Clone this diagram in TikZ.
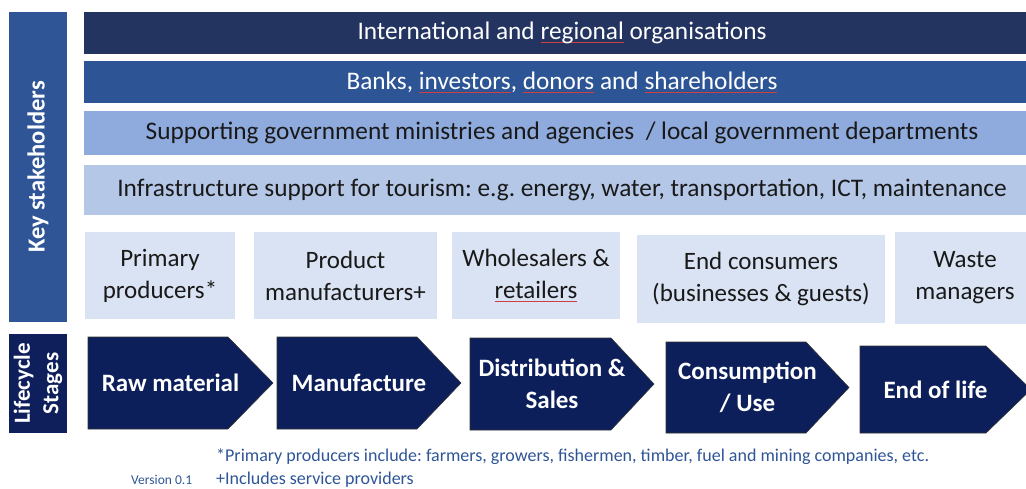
\documentclass[tikz,border=0pt]{standalone}
\usepackage{fontspec}
\setmainfont{Carlito}
\frenchspacing
\definecolor{bandA}{HTML}{233461}
\definecolor{bandB}{HTML}{2D5596}
\definecolor{bandC}{HTML}{8FAADC}
\definecolor{bandD}{HTML}{B4C7E7}
\definecolor{boxfill}{HTML}{DAE3F3}
\definecolor{keybar}{HTML}{2F5597}
\definecolor{lifebar}{HTML}{0E1F5B}
\definecolor{chevfill}{HTML}{0C1F5B}
\definecolor{notecol}{HTML}{2F5597}
\definecolor{spellcol}{HTML}{D04040}
\newcommand\spell[1]{{\setbox0\hbox{#1}\rlap{\color{spellcol}\raisebox{-3pt}{\rule{\wd0}{0.5pt}}}\box0}}
\newcommand\chev[7]{% name, x-left, x-shoulder, x-tip, y-top, y-bottom, text
  \draw[chevron] (#2,#5) -- (#3,#5) -- (#4,{(#5+#6)/2}) -- (#3,#6) -- (#2,#6) -- cycle;
  \node[chevtext] (#1) at ({(#2+#4)/2-10},{(#5+#6)/2}) {#7};}
\begin{document}
\begin{tikzpicture}[x=1pt,y=-1pt,
  band/.style={draw=none, fill=#1, inner sep=0pt, minimum width=956pt, font=\fontsize{25.3}{30}\selectfont},
  sbox/.style={fill=boxfill, inner sep=0pt, align=center, font=\fontsize{25}{32}\selectfont, text=black!90},
  sidebar/.style={fill=#1, inner sep=0pt, minimum width=58pt, text=white},
  chevron/.style={fill=chevfill, draw=black!80, line width=0.6pt},
  chevtext/.style={text=white, align=center, font=\bfseries\fontsize{25}{32}\selectfont},
  note/.style={anchor=west, inner sep=0pt, text=notecol, font=\fontsize{18}{20}\selectfont}]
\useasboundingbox (0,0) rectangle (1026,488);
% left side bars
\node[sidebar=keybar, minimum height=310pt] (key) at (38,167) {};
\node[rotate=90, text=white, font=\bfseries\fontsize{24.5}{28}\selectfont] (keytext) at (key.center) {Key stakeholders};
\node[sidebar=lifebar, minimum height=99pt] (life) at (38,383.5) {};
\node[rotate=90, text=white, align=center, font=\bfseries\fontsize{23}{28.5}\selectfont] (lifetext) at (life.center) {Lifecycle\\Stages};
% stakeholder bands
\node[band=bandA, minimum height=42pt, text=white] (b1) at (562,33) {International and \spell{regional} organisations};
\node[band=bandB, minimum height=42pt, text=white] (b2) at (562,82) {Banks, \spell{investors}, \spell{donors} and \spell{shareholders}};
\node[band=bandC, minimum height=44pt, text=black!90] (b3) at (562,133) {Supporting government ministries and agencies \ / local government departments};
\node[band=bandD, minimum height=50pt, text=black!90] (b4) at (562,190) {Infrastructure support for tourism: e.g. energy, water, transportation, ICT, maintenance};
% stakeholder boxes
\node[sbox, minimum width=150pt, minimum height=87pt] (s1) at (160,275.5) {Primary\\producers*};
\node[sbox, minimum width=183pt, minimum height=87pt] (s2) at (345.5,275.5) {Product\\manufacturers+};
\node[sbox, minimum width=168pt, minimum height=87pt] (s3) at (536,275.5) {Wholesalers \&\\\spell{retailers}};
\node[sbox, minimum width=248pt, minimum height=88pt] (s4) at (761,279) {End consumers\\(businesses \& guests)};
\node[sbox, minimum width=140pt, minimum height=92pt] (s5) at (965,278) {Waste\\managers};
% lifecycle chevrons
\chev{c1}{88}{228}{273}{337}{429}{Raw material}
\chev{c2}{277}{417}{461}{337}{429}{Manufacture}
\chev{c3}{470}{611}{654}{338}{430}{Distribution \&\\Sales}
\chev{c4}{666}{806}{849}{342}{433}{Consumption\\/ Use}
\chev{c5}{860}{986}{1031}{346}{433}{End of life}
% notes
\node[note] (n1) at (216,457) {*Primary producers include: farmers, growers, fishermen, timber, fuel and mining companies, etc.};
\node[note] (n2) at (216,480) {+Includes service providers};
\node[note, font=\fontsize{13.5}{15}\selectfont] (ver) at (131,480) {Version 0.1};
\end{tikzpicture}
\end{document}
